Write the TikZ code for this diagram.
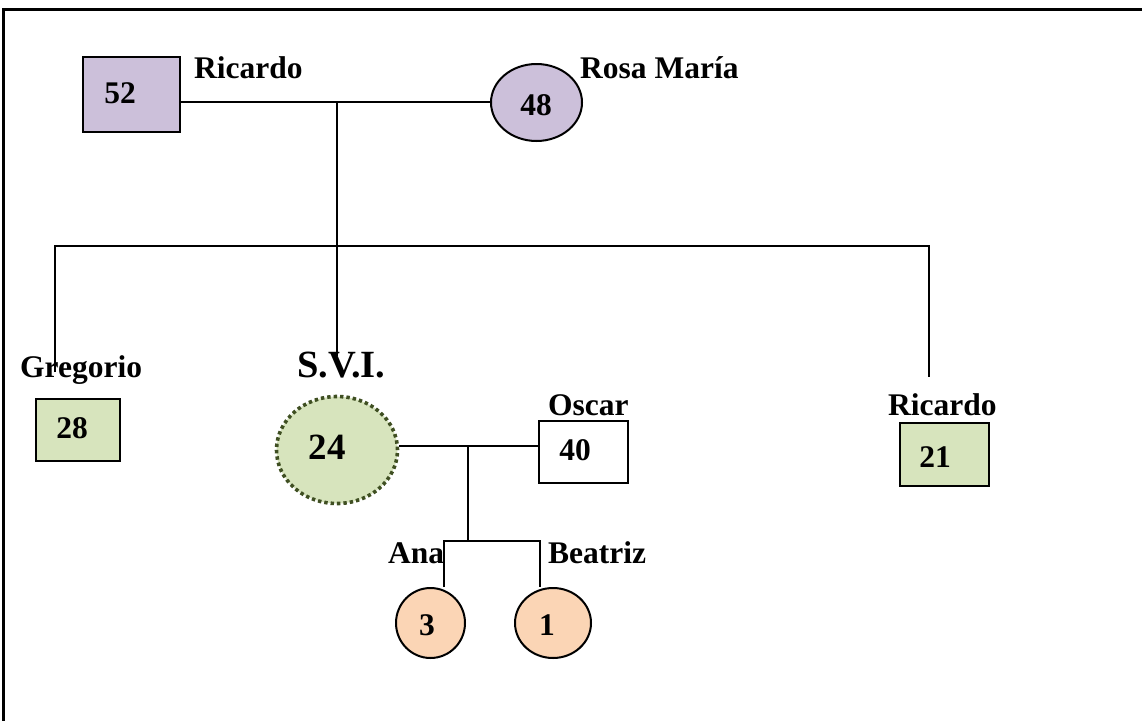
\documentclass[tikz,border=0pt]{standalone}
\usepackage{fontspec}
\setmainfont{Liberation Serif}
\usetikzlibrary{shapes.geometric,backgrounds}
\definecolor{purp}{HTML}{CCC0DA}
\definecolor{lgreen}{HTML}{D7E4BD}
\definecolor{peach}{HTML}{FBD5B5}
\definecolor{olive}{HTML}{3F4F22}
\begin{document}
\begin{tikzpicture}[x=1pt,y=-1pt,
  lbl/.style={font=\fontsize{31.5}{31.5}\selectfont\bfseries, inner sep=0pt, anchor=base west},
  num/.style={font=\fontsize{31.5}{31.5}\selectfont\bfseries, inner sep=0pt},
  bignum/.style={font=\fontsize{37}{37}\selectfont\bfseries, inner sep=0pt},
  conn/.style={line width=2pt, black},
  sq/.style={draw, line width=2pt, inner sep=0pt},
  circ/.style={ellipse, draw, line width=2pt, inner sep=0pt},
]
\useasboundingbox (0,0) rectangle (1142,720);
% frame
\coordinate (f1) at (3,725);
\coordinate (f2) at (3,9);
\coordinate (f3) at (1150,9);
\draw[line width=3pt] (f1) -- (f2) -- (f3);

% persons
\node[sq, fill=purp, minimum width=97pt, minimum height=75pt,
  label={[num,xshift=-11.5pt,yshift=1.5pt]center:52}] (r52) at (131.5,94.5) {};
\node[circ, fill=purp, minimum width=91pt, minimum height=77pt,
  label={[num,xshift=-0.5pt,yshift=-2.5pt]center:48}] (m48) at (536.5,102.5) {};
\node[sq, fill=lgreen, minimum width=84pt, minimum height=62pt,
  label={[num,xshift=-6pt,yshift=2pt]center:28}] (g28) at (78,430) {};
\node[ellipse, draw=olive, line width=3.6pt, dash pattern=on 3.4pt off 3pt, fill=lgreen,
  inner sep=0pt, minimum width=121pt, minimum height=107pt,
  label={[bignum,xshift=-10pt,yshift=3pt]center:24}] (s24) at (337,450) {};
\node[sq, fill=white, minimum width=89pt, minimum height=62pt,
  label={[num,xshift=-8.5pt,yshift=2pt]center:40}] (o40) at (583.5,452) {};
\node[sq, fill=lgreen, minimum width=89pt, minimum height=63pt,
  label={[num,xshift=-9.5pt,yshift=-2.5pt]center:21}] (r21) at (944.5,454.5) {};
\node[circ, fill=peach, minimum width=69pt, minimum height=70pt,
  label={[num,xshift=-3.5pt,yshift=-2pt]center:3}] (a3) at (430.5,623) {};
\node[circ, fill=peach, minimum width=76pt, minimum height=70pt,
  label={[num,xshift=-6pt,yshift=-2pt]center:1}] (b1) at (553,623) {};

% names
\node[lbl] (n1) at (194,78) {Ricardo};
\node[lbl] (n2) at (580,78) {Rosa María};
\node[lbl] (n3) at (20,377) {Gregorio};
\node[lbl, font=\fontsize{38.5}{38.5}\selectfont\bfseries] (n4) at (297,377) {S.V.I.};
\node[lbl] (n5) at (548,415) {Oscar};
\node[lbl] (n6) at (388,563) {Ana};
\node[lbl] (n7) at (548,563) {Beatriz};
\node[lbl] (n8) at (888,415) {Ricardo};

% connectors
\coordinate (c1) at (337,102);
\coordinate (c1e) at (337,356);
\coordinate (sl) at (55,246);
\coordinate (sr) at (929,246);
\coordinate (gl) at (55,372);
\coordinate (rl) at (929,377);
\coordinate (c2) at (468,446);
\coordinate (c3) at (468,541);
\coordinate (c4) at (444,541);
\coordinate (c5) at (540,541);
\begin{pgfonlayer}{background}
\draw[conn] (r52.east |- c1) -- ([xshift=6pt]m48.west |- c1);
\draw[conn] (c1) -- (c1e);
\draw[conn] (gl) -- (sl) -- (sr) -- (rl);
\draw[conn] (s24.east |- c2) -- (o40.west |- c2);
\draw[conn] (c2) -- (c3);
\draw[conn] (c4 |- a3.north) -- (c4) -- (c5) -- (c5 |- b1.north);
\end{pgfonlayer}
\end{tikzpicture}
\end{document}
